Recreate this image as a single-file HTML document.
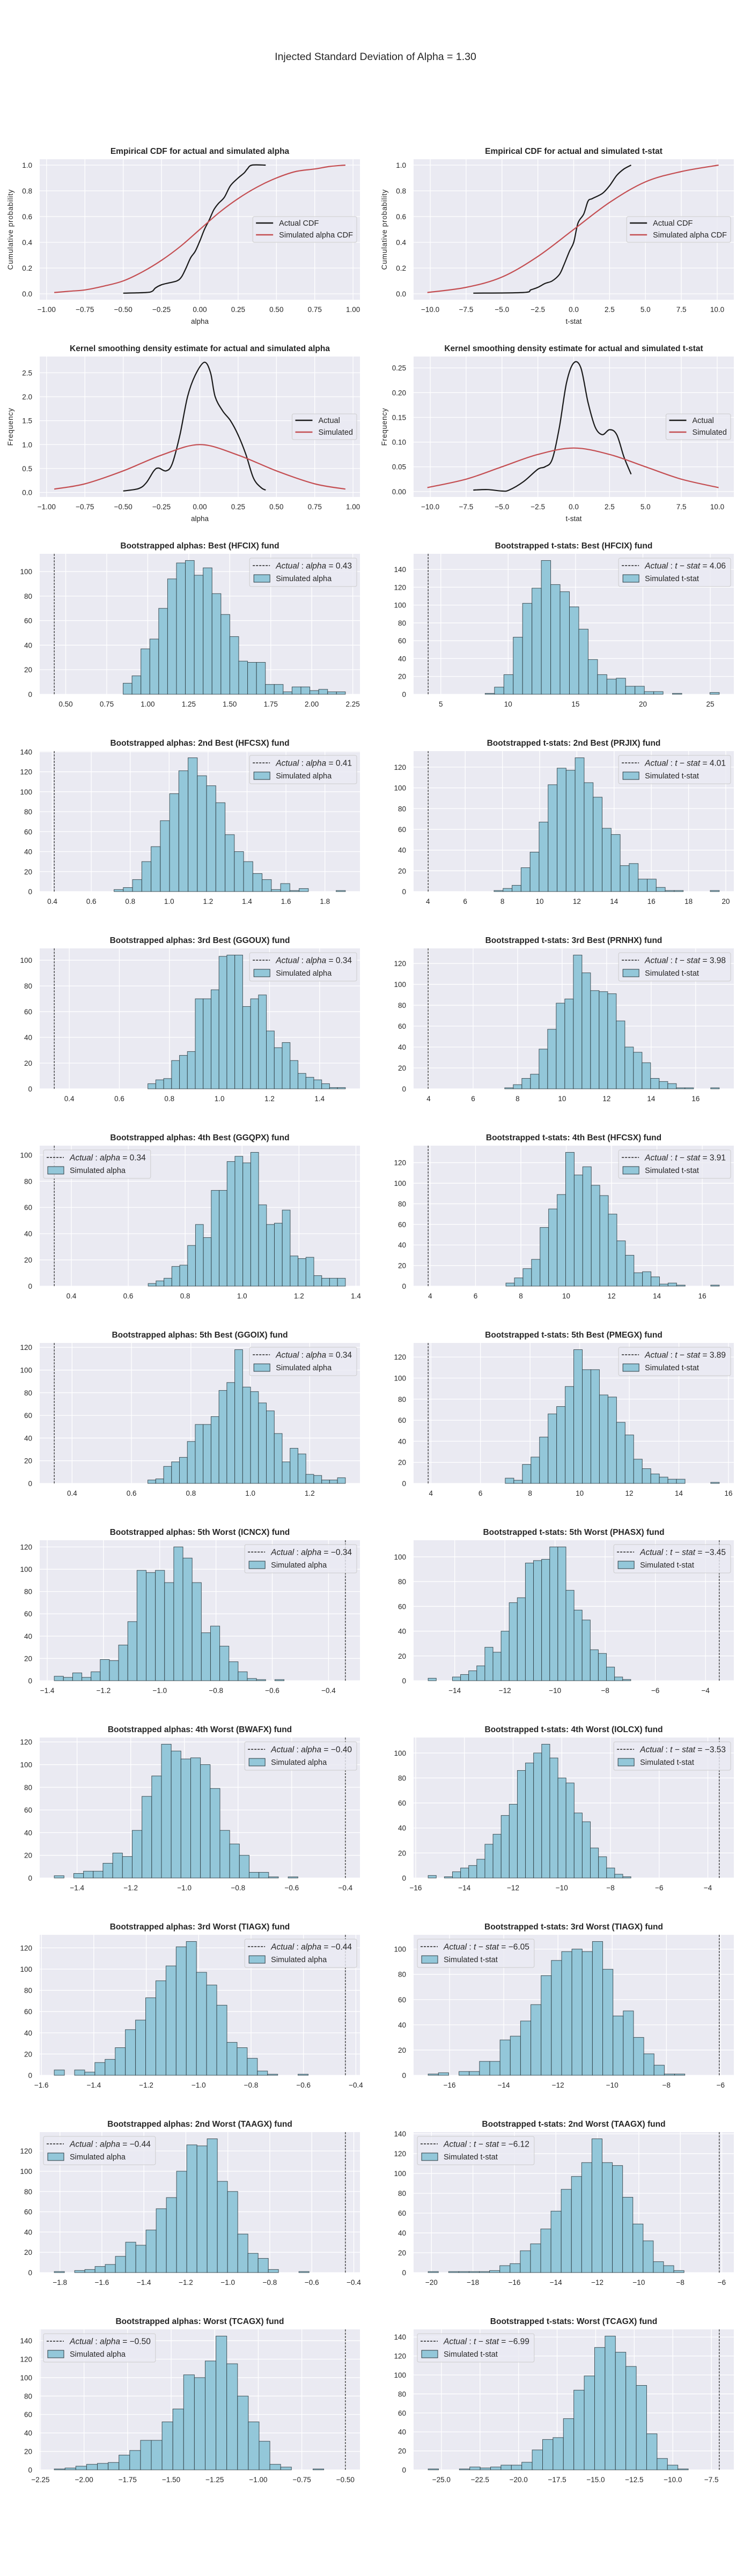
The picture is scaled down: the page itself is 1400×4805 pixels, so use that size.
<!DOCTYPE html>
<html><head><meta charset="utf-8">
<style>
html,body{margin:0;padding:0;background:#fff;}
svg text{font-family:"Liberation Sans",Arial,sans-serif;fill:#262626;}
</style></head>
<body>
<svg id="fig" xmlns="http://www.w3.org/2000/svg" width="1400" height="4800" viewBox="0 0 1400 4800">
<rect x="0" y="0" width="1400" height="4800" fill="#fff"/>
<text x="700" y="112" font-size="19.5" text-anchor="middle">Injected Standard Deviation of Alpha = 1.30</text>
</svg>
<script>
// ---------- CDF / KDE data ----------
const cdfAlphaActX = [-0.5,-0.35,-0.31,-0.29,-0.25,-0.2,-0.15,-0.12,-0.09,-0.06,-0.03,0,0.03,0.06,0.09,0.12,0.16,0.2,0.25,0.29,0.31,0.34,0.43];
const cdfAlphaActY = [0.005,0.01,0.02,0.045,0.07,0.085,0.1,0.13,0.2,0.28,0.33,0.41,0.5,0.57,0.65,0.7,0.75,0.84,0.9,0.94,0.97,1.0,1.0];
const cdfAlphaSimX = [-0.95,-0.85,-0.75,-0.625,-0.5,-0.375,-0.25,-0.125,0,0.125,0.25,0.375,0.5,0.625,0.75,0.85,0.95];
const cdfAlphaSimY = [0.01,0.02,0.03,0.06,0.10,0.17,0.26,0.37,0.50,0.63,0.74,0.83,0.90,0.95,0.97,0.99,1.0];
const cdfTActX = [-7,-3.5,-3,-2.5,-2,-1.5,-1,-0.7,-0.3,0,0.3,0.7,1,1.3,2,2.5,3,3.5,4];
const cdfTActY = [0.005,0.01,0.03,0.05,0.08,0.1,0.15,0.22,0.33,0.4,0.55,0.62,0.72,0.74,0.78,0.84,0.92,0.97,1.0];
const cdfTSimX = [-10.2,-7.5,-5,-2.5,0,2.5,5,7.5,10.1];
const cdfTSimY = [0.01,0.05,0.13,0.29,0.5,0.71,0.87,0.95,1.0];
const kdeAlphaActX = [-0.5,-0.4,-0.35,-0.3,-0.27,-0.22,-0.18,-0.13,-0.08,-0.03,0.03,0.07,0.1,0.15,0.2,0.25,0.3,0.35,0.4,0.43];
const kdeAlphaActY = [0.03,0.08,0.2,0.45,0.51,0.45,0.6,1.2,2.0,2.45,2.72,2.5,2.0,1.7,1.5,1.2,0.8,0.3,0.1,0.05];
const kdeAlphaSimX = [-0.95,-0.75,-0.5,-0.25,0,0.25,0.5,0.75,0.95];
const kdeAlphaSimY = [0.07,0.18,0.45,0.78,1.0,0.78,0.45,0.18,0.07];
const kdeTActX = [-7,-6,-5,-4.5,-3.5,-2.5,-2,-1.5,-1,-0.5,0,0.5,1,1.5,2,2.5,3,3.5,4];
const kdeTActY = [0.003,0.004,0.001,0.003,0.02,0.045,0.05,0.065,0.13,0.22,0.26,0.25,0.18,0.13,0.115,0.125,0.115,0.07,0.035];
const kdeTSimX = [-10.2,-7.5,-5,-2.5,0,2.5,5,7.5,10.1];
const kdeTSimY = [0.008,0.025,0.05,0.075,0.088,0.075,0.05,0.025,0.008];

// ---------- Histogram data ----------
const histTitles = ["Bootstrapped alphas: Best (HFCIX) fund","Bootstrapped t-stats: Best (HFCIX) fund",
"Bootstrapped alphas: 2nd Best (HFCSX) fund","Bootstrapped t-stats: 2nd Best (PRJIX) fund",
"Bootstrapped alphas: 3rd Best (GGOUX) fund","Bootstrapped t-stats: 3rd Best (PRNHX) fund",
"Bootstrapped alphas: 4th Best (GGQPX) fund","Bootstrapped t-stats: 4th Best (HFCSX) fund",
"Bootstrapped alphas: 5th Best (GGOIX) fund","Bootstrapped t-stats: 5th Best (PMEGX) fund",
"Bootstrapped alphas: 5th Worst (ICNCX) fund","Bootstrapped t-stats: 5th Worst (PHASX) fund",
"Bootstrapped alphas: 4th Worst (BWAFX) fund","Bootstrapped t-stats: 4th Worst (IOLCX) fund",
"Bootstrapped alphas: 3rd Worst (TIAGX) fund","Bootstrapped t-stats: 3rd Worst (TIAGX) fund",
"Bootstrapped alphas: 2nd Worst (TAAGX) fund","Bootstrapped t-stats: 2nd Worst (TAAGX) fund",
"Bootstrapped alphas: Worst (TCAGX) fund","Bootstrapped t-stats: Worst (TCAGX) fund"];
const histActual = [0.43,4.06,0.41,4.01,0.34,3.98,0.34,3.91,0.34,3.89,-0.34,-3.45,-0.40,-3.53,-0.44,-6.05,-0.44,-6.12,-0.50,-6.99];
const histBinStart = [0.85,8.29,0.717,7.55,0.714,7.42,0.67,7.34,0.655,7.0,-1.375,-15.06,-1.485,-15.49,-1.551,-16.79,-1.827,-20.16,-2.171,-25.86];
const histBinEnd = [2.205,25.67,1.905,19.65,1.503,17.06,1.363,16.75,1.32,15.63,-0.558,-6.98,-0.577,-7.16,-0.582,-7.32,-0.613,-7.82,-0.624,-9.0];
const histCounts = [
[9,15,37,45,70,94,107,109,97,103,82,65,47,27,26,26,8,8,2,6,6,3,4,2,2],
[1,8,22,64,102,119,150,123,115,98,73,39,22,17,18,9,9,3,3,0,1,0,0,0,2],
[2,4,12,30,45,71,98,121,134,116,106,89,57,40,30,18,12,2,8,1,3,0,0,0,1],
[1,3,6,23,38,67,103,119,117,129,105,91,61,55,25,27,12,12,4,1,1,0,0,0,1],
[4,7,8,22,26,29,70,70,77,103,104,104,64,70,73,45,32,36,22,12,9,7,4,1,1],
[1,4,10,14,38,57,82,86,128,111,94,93,91,65,40,35,25,10,7,5,1,1,0,0,1],
[2,4,6,15,16,31,47,37,73,73,95,99,94,102,62,47,48,58,23,21,22,8,6,6,6],
[3,8,17,26,57,75,89,130,108,116,98,88,70,44,30,13,14,9,2,3,1,0,0,0,1],
[3,4,15,19,23,37,52,52,59,82,89,118,85,81,71,64,44,19,31,26,8,7,3,3,5],
[5,3,18,25,44,66,73,92,127,108,108,84,82,58,46,23,14,9,6,4,4,0,0,0,1],
[4,3,7,3,8,19,18,32,53,99,97,99,88,120,110,88,43,49,31,17,8,2,1,0,1],
[2,0,0,3,5,8,12,27,23,40,63,67,95,97,98,108,108,73,57,49,25,22,11,3,1],
[2,0,4,6,6,13,22,19,42,72,90,118,112,105,106,100,79,42,30,20,5,5,1,0,1],
[2,0,1,5,8,10,15,27,35,50,59,86,92,100,107,96,80,76,52,45,24,17,8,3,1],
[5,0,5,3,12,15,26,43,52,73,89,103,121,126,97,85,66,31,26,16,4,1,0,0,1],
[1,2,0,3,3,11,11,28,31,43,56,79,91,98,100,98,106,84,47,51,30,17,8,1,1],
[1,0,2,3,6,8,16,30,27,42,63,74,100,126,125,132,90,80,38,19,14,3,0,0,1],
[1,0,1,1,1,1,2,7,9,22,29,44,62,84,97,111,135,111,108,76,49,32,11,7,2],
[1,2,4,6,7,8,16,21,32,32,52,66,103,100,118,145,115,80,52,31,6,3,0,0,1],
[1,0,0,1,3,2,3,5,5,8,21,32,34,54,84,99,129,141,124,109,89,38,12,5,1]];
const histTickStep = [0.25,5,0.2,2,0.2,2,0.2,2,0.2,2,0.2,2,0.2,2,0.2,2,0.2,2,0.25,2.5];
const histTickDec = [2,0,1,0,1,0,1,0,1,0,1,0,1,0,1,0,1,0,2,1];
const histLegendLeft = [0,0,0,0,0,0,1,0,0,0,0,0,0,0,0,1,1,1,1,1];

// ---------- layout ----------
const SVGNS = "http://www.w3.org/2000/svg";
const svg = document.getElementById('fig');
const COLX = [[74,671],[771,1368]];
const ROW0 = 297, ROWH = 368, AXH = 262;
const TICKFS = 13.5, TITLEFS = 15.5, LEGFS = 14.5;
function mk(tag, attrs, parent){
  const e = document.createElementNS(SVGNS, tag);
  for (const k in attrs) e.setAttribute(k, attrs[k]);
  (parent||svg).appendChild(e);
  return e;
}
function fmt(v, d){
  let s = Math.abs(v) < 1e-9 ? (0).toFixed(d) : v.toFixed(d);
  return s.replace('-', '\u2212');
}
function makeAxes(row, col, xmin, xmax, ymin, ymax, name){
  const ax = {x0:COLX[col][0], x1:COLX[col][1], y0:ROW0+ROWH*row, y1:ROW0+ROWH*row+AXH, xmin, xmax, ymin, ymax};
  ax.sx = v => ax.x0 + (v - xmin)/(xmax - xmin)*(ax.x1 - ax.x0);
  ax.sy = v => ax.y1 - (v - ymin)/(ymax - ymin)*(ax.y1 - ax.y0);
  const g = mk('g', {});
  
  
  ax.g = g;
  const bg = mk('rect', {x:ax.x0, y:ax.y0, width:ax.x1-ax.x0, height:AXH, fill:'#eaeaf2'}, g);
  
  
  return ax;
}
function ticks(ax, xstep, xdec, ystep, ydec){
  const gg = mk('g', {}, ax.g);
  
  
  for (let v = Math.ceil(ax.xmin/xstep - 1e-9)*xstep; v <= ax.xmax + 1e-9; v += xstep){
    const x = ax.sx(v);
    mk('line', {x1:x, x2:x, y1:ax.y0, y2:ax.y1, stroke:'#fff', 'stroke-width':1.3}, gg);
    const t = mk('text', {x:x, y:ax.y1+23, 'font-size':TICKFS, 'text-anchor':'middle'}, gg);
    
    
    t.textContent = fmt(v, xdec);
  }
  for (let v = Math.ceil(ax.ymin/ystep - 1e-9)*ystep; v <= ax.ymax + 1e-9; v += ystep){
    const y = ax.sy(v);
    mk('line', {x1:ax.x0, x2:ax.x1, y1:y, y2:y, stroke:'#fff', 'stroke-width':1.3}, gg);
    const t = mk('text', {x:ax.x0-14, y:y+5, 'font-size':TICKFS, 'text-anchor':'end'}, gg);
    
    
    t.textContent = fmt(v, ydec);
  }
}
function title(ax, s){
  const t = mk('text', {x:(ax.x0+ax.x1)/2, y:ax.y0-10, 'font-size':TITLEFS, 'font-weight':'bold', 'text-anchor':'middle'}, ax.g);
  
  
  t.textContent = s;
}
function smoothPath(ax, xs, ys){
  const p = xs.map((x,i)=>[ax.sx(x), ax.sy(ys[i])]);
  let d = 'M' + p[0][0].toFixed(1) + ',' + p[0][1].toFixed(1);
  for (let i=0;i<p.length-1;i++){
    const p0 = p[Math.max(0,i-1)], p1 = p[i], p2 = p[i+1], p3 = p[Math.min(p.length-1,i+2)];
    const c1 = [p1[0]+(p2[0]-p0[0])/6, p1[1]+(p2[1]-p0[1])/6];
    const c2 = [p2[0]-(p3[0]-p1[0])/6, p2[1]-(p3[1]-p1[1])/6];
    d += ' C' + c1.map(v=>v.toFixed(1)).join(',') + ' ' + c2.map(v=>v.toFixed(1)).join(',') + ' ' + p2.map(v=>v.toFixed(1)).join(',');
  }
  return d;
}
function curve(ax, xs, ys, color, name){
  const p = mk('path', {d:smoothPath(ax, xs, ys), fill:'none', stroke:color, 'stroke-width':2.2, 'stroke-linejoin':'round'}, ax.g);
  
  
}
function lineLegend(ax, labels, colors){
  const lg = mk('g', {}, ax.g);
  
  
  const box = mk('rect', {x:0, y:0, width:10, height:48, rx:3, fill:'#eaeaf2', 'fill-opacity':0.8, stroke:'#cccccc'}, lg);
  const texts = [];
  labels.forEach((s,i)=>{
    const e = mk('g', {}, lg);
    
    
    mk('line', {x1:6, x2:38, y1:12+i*22, y2:12+i*22, stroke:colors[i], 'stroke-width':2.4}, e);
    const t = mk('text', {x:49, y:17+i*22, 'font-size':LEGFS}, e);
    t.textContent = s;
    texts.push(t);
  });
  const w = Math.max(...texts.map(t=>t.getComputedTextLength())) + 56;
  box.setAttribute('width', w);
  const cy = (ax.y0+ax.y1)/2;
  lg.setAttribute('transform', 'translate(' + (ax.x1-6-w) + ',' + (cy-24) + ')');
}
function xlabel(ax, s){
  const t = mk('text', {x:(ax.x0+ax.x1)/2, y:ax.y1+45, 'font-size':TICKFS, 'text-anchor':'middle'}, ax.g);
  
  
  t.textContent = s;
}
function ylabel(ax, s){
  const cx = ax.x0 - 50, cy = (ax.y0+ax.y1)/2;
  const t = mk('text', {x:cx, y:cy, 'font-size':TICKFS, 'text-anchor':'middle', transform:'rotate(-90 '+cx+' '+cy+')', 'letter-spacing':'0.8'}, ax.g);
  
  
  t.textContent = s;
}

// Row 1: CDFs
let a = makeAxes(0, 0, -1.045, 1.045, -0.046, 1.046, 'cdf-alpha-chart');
ticks(a, 0.25, 2, 0.2, 1); title(a, 'Empirical CDF for actual and simulated alpha');
curve(a, cdfAlphaActX, cdfAlphaActY, '#1a1a1a', 'actual-cdf-line');
curve(a, cdfAlphaSimX, cdfAlphaSimY, '#c44e52', 'simulated-cdf-line');
lineLegend(a, ['Actual CDF','Simulated alpha CDF'], ['#1a1a1a','#c44e52']);
xlabel(a, 'alpha'); ylabel(a, 'Cumulative probability');

a = makeAxes(0, 1, -11.16, 11.16, -0.046, 1.046, 'cdf-tstat-chart');
ticks(a, 2.5, 1, 0.2, 1); title(a, 'Empirical CDF for actual and simulated t-stat');
curve(a, cdfTActX, cdfTActY, '#1a1a1a', 'actual-cdf-line');
curve(a, cdfTSimX, cdfTSimY, '#c44e52', 'simulated-cdf-line');
lineLegend(a, ['Actual CDF','Simulated alpha CDF'], ['#1a1a1a','#c44e52']);
xlabel(a, 't-stat'); ylabel(a, 'Cumulative probability');

// Row 2: KDEs
a = makeAxes(1, 0, -1.045, 1.045, -0.095, 2.84, 'kde-alpha-chart');
ticks(a, 0.25, 2, 0.5, 1); title(a, 'Kernel smoothing density estimate for actual and simulated alpha');
curve(a, kdeAlphaActX, kdeAlphaActY, '#1a1a1a', 'actual-kde-line');
curve(a, kdeAlphaSimX, kdeAlphaSimY, '#c44e52', 'simulated-kde-line');
lineLegend(a, ['Actual','Simulated'], ['#1a1a1a','#c44e52']);
xlabel(a, 'alpha'); ylabel(a, 'Frequency');

a = makeAxes(1, 1, -11.16, 11.16, -0.011, 0.273, 'kde-tstat-chart');
ticks(a, 2.5, 1, 0.05, 2); title(a, 'Kernel smoothing density estimate for actual and simulated t-stat');
curve(a, kdeTActX, kdeTActY, '#1a1a1a', 'actual-kde-line');
curve(a, kdeTSimX, kdeTSimY, '#c44e52', 'simulated-kde-line');
lineLegend(a, ['Actual','Simulated'], ['#1a1a1a','#c44e52']);
xlabel(a, 't-stat'); ylabel(a, 'Frequency');

// Histograms
histTitles.forEach((ttl, i)=>{
  const counts = histCounts[i];
  const act = histActual[i], s = histBinStart[i], e = histBinEnd[i];
  const lo = Math.min(act, s), hi = Math.max(act, e), pad = (hi-lo)*0.05;
  const ymax = Math.max(...counts)*1.05;
  const isAlpha = ttl.indexOf('alphas') >= 0;
  const ax = makeAxes(2 + Math.floor(i/2), i%2, lo-pad, hi+pad, 0, ymax, (isAlpha?'alpha':'tstat') + '-histogram-' + (i+1));
  ticks(ax, histTickStep[i], histTickDec[i], 20, 0);
  title(ax, ttl);
  const bw = (e - s)/counts.length;
  const bars = mk('g', {}, ax.g);
  
  
  counts.forEach((c, k)=>{
    if (c <= 0) return;
    const x0 = ax.sx(s + k*bw), x1 = ax.sx(s + (k+1)*bw), y = ax.sy(c);
    const r = mk('rect', {x:x0, y:y, width:x1-x0, height:ax.y1-y, fill:'#93c7d9', stroke:'#2b3a40', 'stroke-opacity':0.85, 'stroke-width':1}, bars);
    
    
  });
  const vx = ax.sx(act);
  const vl = mk('line', {x1:vx, x2:vx, y1:ax.y0, y2:ax.y1, stroke:'#222', 'stroke-width':1.2, 'stroke-dasharray':'4,2'}, ax.g);
  
  
  // legend
  const lg = mk('g', {}, ax.g);
  
  
  const box = mk('rect', {x:0, y:0, width:10, height:53, rx:3, fill:'#eaeaf2', 'fill-opacity':0.8, stroke:'#cccccc'}, lg);
  const e1 = mk('g', {}, lg);
  
  
  mk('line', {x1:6, x2:38, y1:14, y2:14, stroke:'#222', 'stroke-width':1.5, 'stroke-dasharray':'4,2'}, e1);
  const t1 = mk('text', {x:49, y:19.5, 'font-size':LEGFS+1}, e1);
  const lbl = isAlpha ? 'alpha' : 't \u2212 stat';
  t1.innerHTML = '<tspan font-style="italic">Actual</tspan> : <tspan font-style="italic">' + lbl + '</tspan> = ' + fmt(act, 2);
  const e2 = mk('g', {}, lg);
  
  
  mk('rect', {x:8, y:31, width:30, height:14, fill:'#93c7d9', stroke:'#2b3a40', 'stroke-width':1}, e2);
  const t2 = mk('text', {x:49, y:43, 'font-size':LEGFS}, e2);
  t2.textContent = isAlpha ? 'Simulated alpha' : 'Simulated t-stat';
  const w = Math.max(t1.getComputedTextLength(), t2.getComputedTextLength()) + 58;
  box.setAttribute('width', w);
  const lx = histLegendLeft[i] ? ax.x0 + 7 : ax.x1 - 6 - w;
  lg.setAttribute('transform', 'translate(' + lx + ',' + (ax.y0 + 8) + ')');
});
</script>
</body></html>
